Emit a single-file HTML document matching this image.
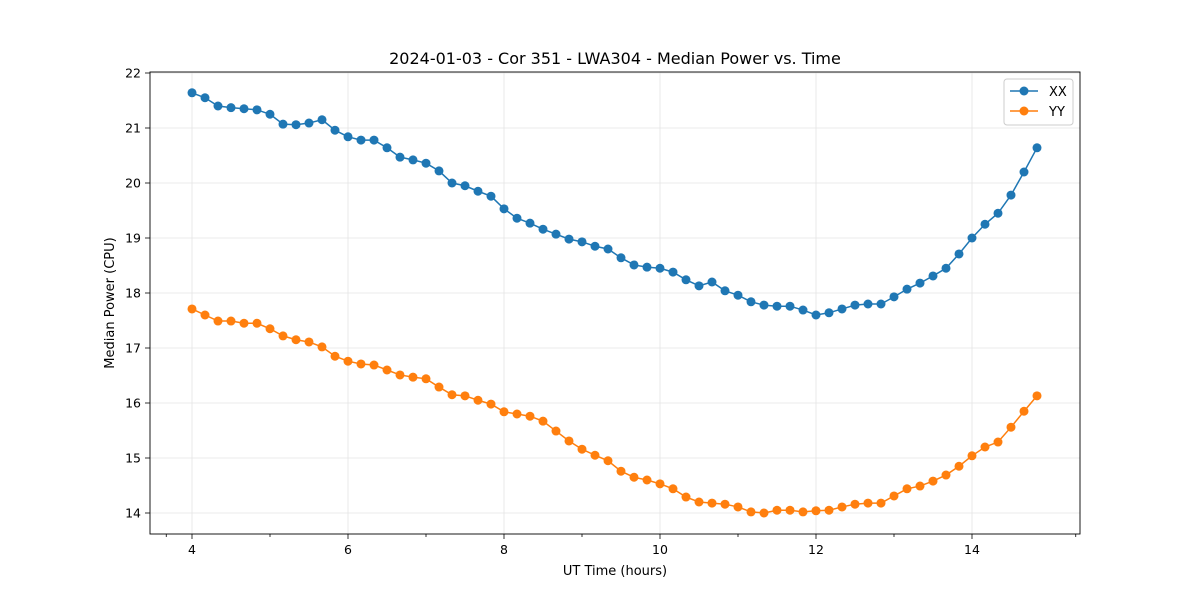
<!DOCTYPE html>
<html><head><meta charset="utf-8"><style>
body{margin:0;background:#fff;font-family:"Liberation Sans","DejaVu Sans",sans-serif;}
svg text{font-family:"DejaVu Sans","Liberation Sans",sans-serif;}
</style></head><body>
<svg id="chart" width="1200" height="600" xmlns="http://www.w3.org/2000/svg">
<rect width="1200" height="600" fill="#fff"/>
<text x="615" y="64" font-size="16" text-anchor="middle">2024-01-03 - Cor 351 - LWA304 - Median Power vs. Time</text>
<g id="grid"></g><g id="series"></g><g id="axes"></g>
<text x="615" y="575" font-size="13" text-anchor="middle">UT Time (hours)</text>
<text transform="translate(114,303) rotate(-90)" font-size="13" text-anchor="middle">Median Power (CPU)</text>
<g>
<rect x="1004" y="79" width="69" height="46" rx="3" fill="#fff" stroke="#ccc"/>
<line x1="1010" y1="91" x2="1038" y2="91" stroke="#1f77b4" stroke-width="1.5"/><circle cx="1024" cy="91" r="4.5" fill="#1f77b4"/>
<text x="1049" y="96" font-size="13">XX</text>
<line x1="1010" y1="111" x2="1038" y2="111" stroke="#ff7f0e" stroke-width="1.5"/><circle cx="1024" cy="111" r="4.5" fill="#ff7f0e"/>
<text x="1049" y="116" font-size="13">YY</text>
</g>
</svg>
<script>
const xxValues=[21.64,21.55,21.4,21.37,21.35,21.33,21.25,21.07,21.06,21.09,21.15,20.96,20.84,20.78,20.78,20.64,20.47,20.42,20.36,20.22,20.0,19.95,19.85,19.76,19.53,19.36,19.27,19.16,19.07,18.98,18.93,18.85,18.8,18.64,18.51,18.47,18.45,18.38,18.24,18.13,18.2,18.04,17.96,17.84,17.78,17.76,17.76,17.69,17.6,17.64,17.71,17.78,17.8,17.8,17.93,18.07,18.18,18.31,18.45,18.71,19.0,19.25,19.45,19.78,20.2,20.64];
const yyValues=[17.71,17.6,17.49,17.49,17.45,17.45,17.35,17.22,17.15,17.11,17.02,16.85,16.76,16.71,16.69,16.6,16.51,16.47,16.44,16.29,16.15,16.13,16.05,15.98,15.84,15.8,15.76,15.67,15.49,15.31,15.16,15.05,14.95,14.76,14.65,14.6,14.53,14.44,14.29,14.2,14.18,14.16,14.11,14.02,14.0,14.05,14.05,14.02,14.04,14.05,14.11,14.16,14.18,14.18,14.31,14.44,14.49,14.58,14.69,14.85,15.04,15.2,15.29,15.56,15.85,16.13];
const timeStart=4, timeStep=1/6;
const xTicks=[4,6,8,10,12,14];
const yTicks=[14,15,16,17,18,19,20,21,22];
const L=150,R=1080,T=72,B=534;
const xs=v=>192+(v-4)*78;
const ys=v=>73+(22-v)*55;
const NS="http://www.w3.org/2000/svg";
function mk(tag,attrs,parent){const e=document.createElementNS(NS,tag);for(const k in attrs)e.setAttribute(k,attrs[k]);parent.appendChild(e);return e;}
const grid=document.getElementById('grid'),axes=document.getElementById('axes'),series=document.getElementById('series');
xTicks.forEach(t=>{
 const g=mk('line',{x1:xs(t),x2:xs(t),y1:T,y2:B,stroke:'#e5e5e5','stroke-width':0.8},grid);
 
 
 mk('line',{x1:xs(t),x2:xs(t),y1:B,y2:B+5,stroke:'#000','stroke-width':0.8},axes);
 const tx=mk('text',{x:xs(t),y:B+20,'font-size':12.5,'text-anchor':'middle'},axes);
 tx.textContent=t;
 
 
});
[3.67,5,7,9,11,13,15.33].forEach(t=>{mk('line',{x1:xs(t),x2:xs(t),y1:B,y2:B+3,stroke:'#000','stroke-width':0.8},axes);});
yTicks.forEach(t=>{
 const g=mk('line',{x1:L,x2:R,y1:ys(t),y2:ys(t),stroke:'#e5e5e5','stroke-width':0.8},grid);
 
 
 mk('line',{x1:L-5,x2:L,y1:ys(t),y2:ys(t),stroke:'#000','stroke-width':0.8},axes);
 const tx=mk('text',{x:L-9,y:ys(t)+4.5,'font-size':12.5,'text-anchor':'end'},axes);
 tx.textContent=t;
 
 
});
const frame=mk('rect',{x:L,y:T,width:R-L,height:B-T,fill:'none',stroke:'#000','stroke-width':0.9},axes);


function draw(vals,color,name){
 const pts=vals.map((v,i)=>[xs(timeStart+i*timeStep),ys(v)]);
 const p=mk('polyline',{points:pts.map(p=>p.join(',')).join(' '),fill:'none',stroke:color,'stroke-width':1.5},series);
 
 
 pts.forEach(q=>{
  const c=mk('circle',{cx:q[0],cy:q[1],r:4.5,fill:color},series);
  
  
 });
}
draw(xxValues,'#1f77b4','xx');
draw(yyValues,'#ff7f0e','yy');
</script>
</body></html>
